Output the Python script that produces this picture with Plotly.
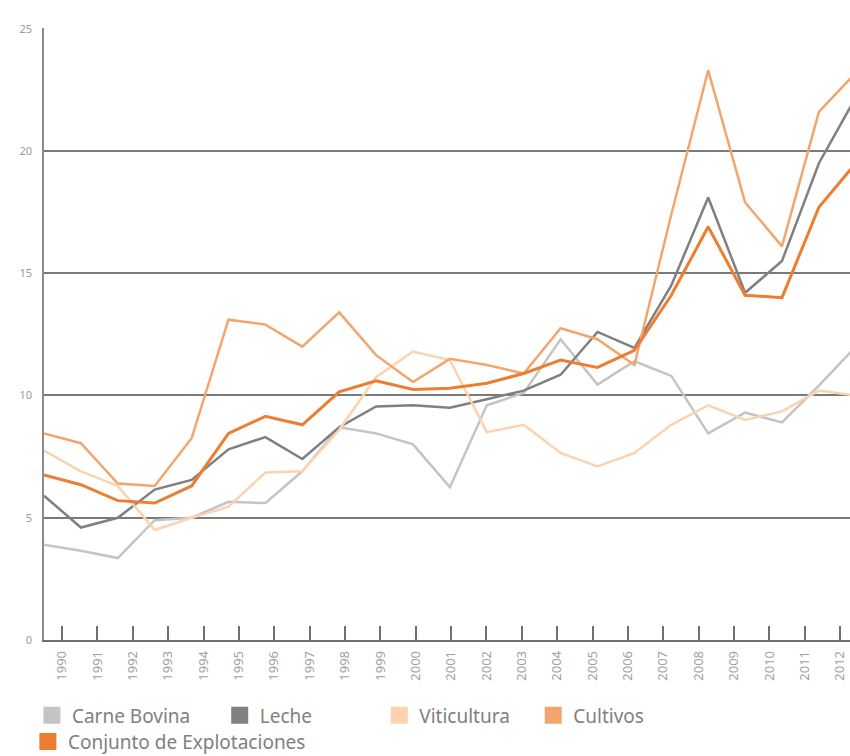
import plotly.graph_objects as go

# years shown on the axis
years = list(range(1990, 2013))
year_labels = [str(y) for y in years]

# values (index 1990 .. 2012)
carne_bovina = [3.9, 3.65, 3.35, 4.9, 5.0, 5.65, 5.6, 6.9, 8.7, 8.45, 8.0, 6.25,
                9.6, 10.1, 12.3, 10.45, 11.4, 10.8, 8.45, 9.3, 8.9, 10.4, 12.0]
leche = [5.9, 4.6, 5.0, 6.15, 6.55, 7.8, 8.3, 7.4, 8.7, 9.55, 9.6, 9.5,
         9.85, 10.2, 10.85, 12.6, 11.95, 14.5, 18.1, 14.2, 15.5, 19.5, 22.2]
viticultura = [7.75, 6.9, 6.3, 4.5, 5.0, 5.45, 6.85, 6.9, 8.6, 10.75, 11.8, 11.45,
               8.5, 8.8, 7.65, 7.1, 7.65, 8.8, 9.6, 9.0, 9.35, 10.2, 10.0]
cultivos = [8.45, 8.05, 6.4, 6.3, 8.25, 13.1, 12.9, 12.0, 13.4, 11.65, 10.55, 11.5,
            11.25, 10.9, 12.75, 12.3, 11.25, 17.4, 23.3, 17.9, 16.1, 21.6, 23.2]
conjunto = [6.75, 6.35, 5.7, 5.6, 6.3, 8.45, 9.15, 8.8, 10.15, 10.6, 10.25, 10.3,
            10.5, 10.9, 11.45, 11.15, 11.85, 14.1, 16.9, 14.1, 14.0, 17.7, 19.5]

# name, values, colour, width, legend id, legend x, legend y
series = [
    ("Carne Bovina", carne_bovina, "#c4c4c4", 2.5, "legend", -0.015, -0.092),
    ("Leche", leche, "#808080", 2.5, "legend2", 0.218, -0.092),
    ("Viticultura", viticultura, "#fbd3b0", 2.5, "legend3", 0.416, -0.092),
    ("Cultivos", cultivos, "#f2a66e", 2.5, "legend4", 0.607, -0.092),
    ("Conjunto de Explotaciones", conjunto, "#ed7d31", 3, "legend5", -0.02, -0.135),
]

fig = go.Figure()
legends = {}
for name, vals, col, w, leg, lx, ly in series:
    fig.add_trace(go.Scatter(x=years, y=vals, mode="lines", name=name,
                             line=dict(color=col, width=w), showlegend=False))
    # legend blob
    fig.add_trace(go.Scatter(x=[None], y=[None], mode="markers", name=name,
                             legend=leg,
                             marker=dict(symbol="square", size=15, color=col,
                                         line=dict(color=col, width=2))))
    legends[leg] = dict(orientation="h", x=lx, y=ly, xanchor="left", yanchor="top",
                        font=dict(size=19, color="#808080"), itemwidth=30,
                        borderwidth=0, bgcolor="rgba(0,0,0,0)")

# empty trace so the label axis gets drawn
fig.add_trace(go.Scatter(x=years, y=[None] * len(years), xaxis="x2",
                         mode="lines", showlegend=False, hoverinfo="skip"))

fig.update_layout(
    width=850, height=756,
    margin=dict(l=44, r=0, t=28, b=116, autoexpand=False),
    paper_bgcolor="white", plot_bgcolor="white",
    font=dict(family="Noto Sans, Open Sans, sans-serif", color="#808080"),
    xaxis=dict(range=[1990, 1990 + 806 / 36.9], visible=False, automargin=False),
    xaxis2=dict(overlaying="x", anchor="y", side="bottom",
                range=[1989.49, 2012.28], automargin=False,
                tickmode="array", tickvals=years, ticktext=year_labels,
                tickangle=-90, tickfont=dict(size=13, color="#a0a0a0"),
                ticklabelstandoff=4,
                ticks="inside", ticklen=14, tickwidth=1.5, tickcolor="#707070",
                showline=True, linecolor="#707070", linewidth=1.5,
                showgrid=False, zeroline=False),
    yaxis=dict(range=[0, 25.03], tickvals=[0, 5, 10, 15, 20, 25], automargin=False,
               showgrid=True, gridcolor="#7a7a7a", gridwidth=1.5,
               zeroline=False, showline=True, linecolor="#8c8c8c", linewidth=1.5,
               tickfont=dict(size=11, color="#9a9a9a"), ticklabelstandoff=8),
    **legends,
)

# drop the default page margin so the figure fills the window
fig.write_html("out.html", config={"displayModeBar": False},
               post_script="document.body.style.margin='0';")
